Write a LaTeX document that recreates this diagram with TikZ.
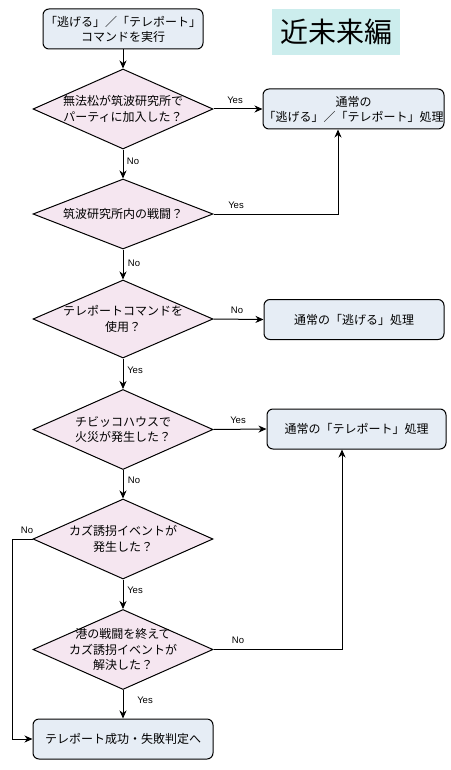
\documentclass[tikz,border=0pt]{standalone}
\usepackage{fontspec}
\setmainfont{Liberation Sans}
\newfontfamily\jp{Noto Sans CJK JP}
\usetikzlibrary{shapes.geometric,arrows.meta}
\definecolor{boxfill}{HTML}{E6EDF5}
\definecolor{diafill}{HTML}{F5E6F0}
\definecolor{titlefill}{HTML}{CCEDED}
\tikzset{
  proc/.style={draw, rounded corners=6pt, fill=boxfill, line width=1pt, inner sep=0pt,
    minimum width=#1, minimum height=40pt, align=center, font=\jp\fontsize{12}{15}\selectfont},
  dia/.style={draw, diamond, fill=diafill, line width=1pt, inner sep=0pt,
    minimum width=180pt, minimum height=#1},
  dlab/.style={align=center, font=\jp\fontsize{12}{15.5}\selectfont, inner sep=0pt},
  conn/.style={line width=1pt, -{Stealth[length=8pt,width=7pt,inset=2.5pt]}},
  yn/.style={font=\fontsize{9.5}{11}\selectfont, inner sep=0pt},
}
\begin{document}
\begin{tikzpicture}[x=1pt,y=-1pt]
\useasboundingbox[fill=white] (0,0) rectangle (450,770);

\node[proc=160pt] (start) at (123,29) {「逃げる」／「テレポート」\\コマンドを実行};
\node[fill=titlefill, minimum width=128pt, minimum height=46pt, inner sep=0pt,
      font=\jp\fontsize{28}{30}\selectfont] (title) at (336,32) {近未来編};

\node[dia=80pt, label={[dlab]center:{無法松が筑波研究所で\\パーティに加入した？}}] (d1) at (123,109) {};
\node[proc=181pt] (b1) at (353.5,109) {通常の\\「逃げる」／「テレポート」処理};

\node[dia=70pt, label={[dlab]center:{筑波研究所内の戦闘？}}] (d2) at (123,214) {};

\node[dia=78pt, label={[dlab]center:{テレポートコマンドを\\使用？}}] (d3) at (123,319) {};
\node[proc=180pt] (b2) at (354,319.5) {通常の「逃げる」処理};

\node[dia=80pt, label={[dlab]center:{チビッコハウスで\\火災が発生した？}}] (d4) at (123,429.5) {};
\node[proc=179pt] (b3) at (356.5,429) {通常の「テレポート」処理};

\node[dia=80pt, label={[dlab]center:{カズ誘拐イベントが\\発生した？}}] (d5) at (123,539) {};

\node[dia=80pt, label={[dlab]center:{港の戦闘を終えて\\カズ誘拐イベントが\\解決した？}}] (d6) at (123,649.5) {};

\node[proc=180pt] (end) at (123,739) {テレポート成功・失敗判定へ};

% connectors
\draw[conn] (start) -- (d1);
\draw[conn] (d1.east) -- (b1.west);
\draw[conn] (d1) -- (d2);
\draw[conn] (d2.east) -| ([xshift=-15.5pt]b1.south);
\draw[conn] (d2) -- (d3);
\draw[conn] (d3.east) -- (b2.west);
\draw[conn] (d3) -- (d4);
\draw[conn] (d4.east) -- (b3.west);
\draw[conn] (d4) -- (d5);
\draw[conn] (d5) -- (d6);
\draw[conn] (d5.west) -- ++(-20,0) |- (end.west);
\draw[conn] (d6.east) -| ([xshift=-14.5pt]b3.south);
\draw[conn] (d6) -- (end);

% labels
\node[yn] (l1y) at (235,100) {Yes};
\node[yn] (l1n) at (133,161) {No};
\node[yn] (l2y) at (236,205) {Yes};
\node[yn] (l2n) at (134,263) {No};
\node[yn] (l3n) at (237,310) {No};
\node[yn] (l3y) at (135,370) {Yes};
\node[yn] (l4y) at (238,420) {Yes};
\node[yn] (l4n) at (134,480) {No};
\node[yn] (l5n) at (27,530) {No};
\node[yn] (l5y) at (135,590) {Yes};
\node[yn] (l6n) at (238,640) {No};
\node[yn] (l6y) at (145,700) {Yes};
\end{tikzpicture}
\end{document}
